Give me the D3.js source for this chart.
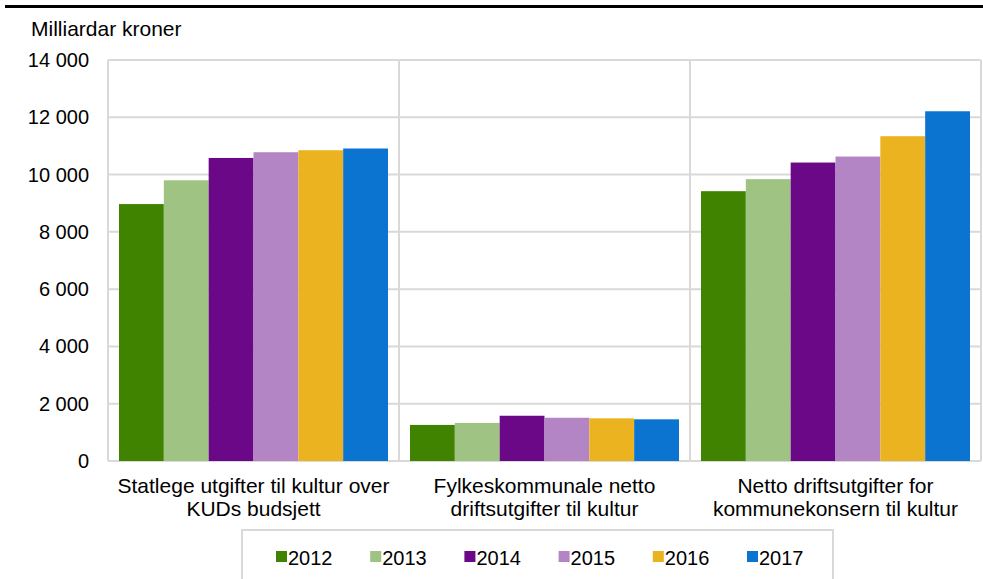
<!DOCTYPE html>
<html>
<head>
<meta charset="utf-8">
<script src="https://cdn.jsdelivr.net/npm/d3@7"></script>
<style>
  body { margin: 0; background: #fff; }
  text { font-family: "Liberation Sans", Arial, sans-serif; fill: #000; }
</style>
</head>
<body>
<svg id="chart"></svg>
<script>
// values (milliarder kroner)
const categories = [
  ["Statlege utgifter til kultur over", "KUDs budsjett"],
  ["Fylkeskommunale netto", "driftsutgifter til kultur"],
  ["Netto driftsutgifter for", "kommunekonsern til kultur"]
];
const years = ["2012", "2013", "2014", "2015", "2016", "2017"];
const colors = ["#3f8300", "#9fc383", "#6a0888", "#b485c5", "#ebb320", "#0a74d0"];
const v2012 = [8970, 1260, 9420];
const v2013 = [9800, 1330, 9840];
const v2014 = [10580, 1580, 10420];
const v2015 = [10780, 1510, 10630];
const v2016 = [10850, 1490, 11340];
const v2017 = [10910, 1455, 12210];
const yTicks = [0, 2000, 4000, 6000, 8000, 10000, 12000, 14000];

const series = [v2012, v2013, v2014, v2015, v2016, v2017];

const W = 983, H = 579;
const plot = { left: 108, right: 981, top: 60, bottom: 461 };

const svg = d3.select("#chart").attr("width", W).attr("height", H);

// thick rule at the top
svg.append("rect").attr("x", 5).attr("y", 5).attr("width", W - 5).attr("height", 3).attr("fill", "#000");

const x0 = d3.scaleBand().domain(d3.range(categories.length))
  .range([plot.left, plot.right]).paddingInner(0).paddingOuter(0);
const x1 = d3.scaleBand().domain(d3.range(years.length))
  .range([11, x0.bandwidth() - 11]).padding(0);
const y = d3.scaleLinear().domain([0, 14000]).range([plot.bottom, plot.top]);

const fmt = v => v === 0 ? "0" : d3.format(",")(v).replace(/,/g, " ");

// grid
svg.append("g").selectAll("line").data(yTicks).join("line")
  .attr("x1", plot.left).attr("x2", plot.right)
  .attr("y1", d => y(d)).attr("y2", d => y(d))
  .attr("stroke", "#d9d9d9").attr("stroke-width", 2);

const vlines = [plot.left, x0(1), x0(2), plot.right];
svg.append("g").selectAll("line").data(vlines).join("line")
  .attr("x1", d => d).attr("x2", d => d)
  .attr("y1", plot.top).attr("y2", plot.bottom)
  .attr("stroke", "#d9d9d9").attr("stroke-width", 2);

// y labels
svg.append("g").selectAll("text").data(yTicks).join("text")
  .attr("x", 89).attr("y", d => y(d) + 7)
  .attr("text-anchor", "end").attr("font-size", 20)
  .text(fmt);

svg.append("text").attr("x", 31).attr("y", 36).attr("font-size", 21).text("Milliardar kroner");

// bars
const groups = svg.append("g").selectAll("g").data(categories).join("g")
  .attr("transform", (d, i) => `translate(${x0(i)},0)`);

groups.selectAll("rect").data((d, ci) => series.map((s, si) => ({ si, v: s[ci] }))).join("rect")
  .attr("x", d => x1(d.si))
  .attr("width", x1.bandwidth())
  .attr("y", d => y(d.v))
  .attr("height", d => y(0) - y(d.v))
  .attr("fill", d => colors[d.si]);

// category labels
groups.append("text")
  .attr("x", x0.bandwidth() / 2).attr("y", 493)
  .attr("text-anchor", "middle").attr("font-size", 21)
  .selectAll("tspan").data(d => d).join("tspan")
  .attr("x", x0.bandwidth() / 2).attr("dy", (d, i) => i === 0 ? 0 : 22.5)
  .text(d => d);

// legend
svg.append("rect").attr("x", 242).attr("y", 530).attr("width", 591).attr("height", 60)
  .attr("fill", "#fff").attr("stroke", "#d9d9d9").attr("stroke-width", 2);

const leg = svg.append("g").selectAll("g").data(years).join("g")
  .attr("transform", (d, i) => `translate(${276 + i * 94.2},551)`);
leg.append("rect").attr("width", 11).attr("height", 11).attr("fill", (d, i) => colors[i]);
leg.append("text").attr("x", 12).attr("y", 14).attr("font-size", 20).text(d => d);
</script>
</body>
</html>
